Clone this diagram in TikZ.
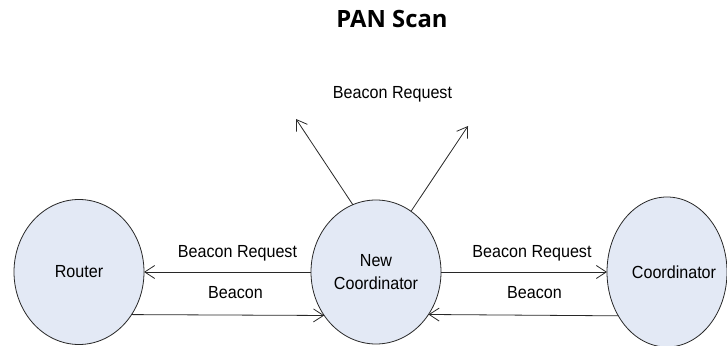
\documentclass[tikz,border=0pt]{standalone}
\usepackage{fontspec}
\usetikzlibrary{arrows.meta,shapes.geometric}
\newfontfamily\labfont[FakeStretch=0.92]{Liberation Sans}
\newfontfamily\titlefont{Open Sans}
\definecolor{ellfill}{RGB}{227,233,245}
\definecolor{lincol}{RGB}{40,40,40}
\tikzset{
  ell/.style={ellipse, draw=lincol, line width=0.8pt, fill=ellfill, inner sep=0pt, outer sep=0pt,
    font=\labfont\fontsize{17.5}{23}\selectfont, align=center},
  lab/.style={font=\labfont\fontsize{17.5}{23}\selectfont, anchor=base, inner sep=0pt},
  conn/.style={draw=lincol, line width=0.8pt, -{Straight Barb[length=10pt,width=13pt,line width=0.8pt]}},
}
\begin{document}
\begin{tikzpicture}[x=1pt,y=1pt]
\useasboundingbox (0,0) rectangle (727,345);
\clip (0,0) rectangle (727,345);
\node[font=\titlefont\bfseries\fontsize{23.8}{28}\selectfont, anchor=base, inner sep=0pt] (title) at (392,317.5) {PAN Scan};
\node[ell, minimum width=130pt, minimum height=145pt] (router) at (79,73) {Router};
\node[ell, minimum width=130pt, minimum height=144pt] (nc) at (376,73) {New\\Coordinator};
\node[ell, minimum width=120pt, minimum height=150pt,
  label={[font=\labfont\fontsize{17.5}{23}\selectfont, xshift=7pt]center:Coordinator}] (coord) at (667,73) {};
\coordinate (tl) at (296,226);
\coordinate (tr) at (468,219);
\node[lab] (ltop) at (392.5,246) {Beacon Request};
\node[lab] (lbr) at (237.5,87) {Beacon Request};
\node[lab] (lb) at (235.5,46) {Beacon};
\node[lab] (rbr) at (532,87) {Beacon Request};
\node[lab] (rb) at (534.5,46) {Beacon};
\draw[conn] (nc.180) -- (router.0);
\draw[conn] (router.-39.4) -- (nc.-140.5);
\draw[conn] (nc.0) -- (coord.180);
\draw[conn] (coord.-138.8) -- (nc.-39.5);
\draw[conn] (nc.109) -- (tl);
\draw[conn] (nc.60.3) -- (tr);
\end{tikzpicture}
\end{document}
